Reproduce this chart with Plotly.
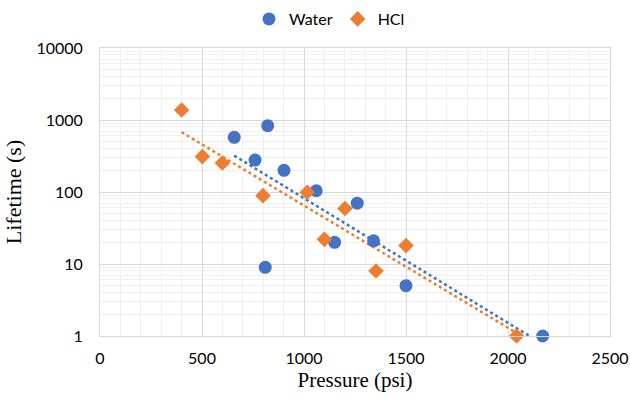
import numpy as np
import plotly.graph_objects as go

# Lifetime vs. pressure for two fluids
water_pressure = [658, 822, 760, 902, 1060, 1261, 1150, 1341, 1500, 2170, 810]
water_lifetime = [575, 833, 278, 200, 104, 70, 20, 21, 5, 1, 9]

hcl_pressure = [400, 502, 600, 799, 1016, 1201, 1100, 1500, 1353, 2042]
hcl_lifetime = [1380, 310, 253, 89, 99, 59, 22, 18, 8, 1]

x_ticks = [0, 500, 1000, 1500, 2000, 2500]
y_ticks = [1, 10, 100, 1000, 10000]

BLUE = "#4472C4"
ORANGE = "#ED7D31"
SANS = "Lato, Open Sans, sans-serif"
TICK_FONT = dict(family=SANS, size=16, color="#000000")
TITLE_FONT = dict(family="Liberation Serif, Times New Roman, serif", size=21, color="#000000")


def exp_trend(x, y):
    """Exponential least-squares fit (linear fit of ln y), evaluated across the data range."""
    x = np.asarray(x, float)
    b, a = np.polyfit(x, np.log(np.asarray(y, float)), 1)
    xs = np.linspace(x.min(), x.max(), 60)
    return xs, np.exp(a + b * xs)


fig = go.Figure()

wx, wy = exp_trend(water_pressure, water_lifetime)
hx, hy = exp_trend(hcl_pressure, hcl_lifetime)

fig.add_trace(go.Scatter(x=wx, y=wy, mode="lines", showlegend=False, hoverinfo="skip",
                         line=dict(color=BLUE, width=2.5, dash="dot")))
fig.add_trace(go.Scatter(x=hx, y=hy, mode="lines", showlegend=False, hoverinfo="skip",
                         line=dict(color=ORANGE, width=2.5, dash="dot")))

# markers sitting on the bottom axis are drawn whole, not clipped
fig.add_trace(go.Scatter(x=water_pressure, y=water_lifetime, mode="markers", name="Water",
                         cliponaxis=False,
                         marker=dict(symbol="circle", size=13, color=BLUE)))
fig.add_trace(go.Scatter(x=hcl_pressure, y=hcl_lifetime, mode="markers", name="HCl",
                         cliponaxis=False,
                         marker=dict(symbol="diamond", size=12, color=ORANGE)))

fig.update_layout(
    width=630, height=399,
    margin=dict(l=100, r=20, t=48, b=63, autoexpand=False),
    paper_bgcolor="white", plot_bgcolor="white",
    legend=dict(orientation="h", x=0.45, xanchor="center", y=0.995, yanchor="top",
                yref="container", font=dict(family=SANS, size=16, color="#000000"),
                itemwidth=30, tracegroupgap=0),
    xaxis=dict(
        range=[0, 2500], tickvals=x_ticks, ticks="", tickfont=TICK_FONT,
        ticklabelstandoff=8,
        showgrid=True, gridcolor="#D9D9D9", gridwidth=1,
        minor=dict(dtick=100, showgrid=True, gridcolor="#F0F0F0", gridwidth=1),
        showline=True, linecolor="#D9D9D9", mirror=True, zeroline=False,
        title=dict(text="Pressure (psi)", font=TITLE_FONT, standoff=6),
    ),
    yaxis=dict(
        type="log", range=[0, 4], tickvals=y_ticks, ticktext=[str(v) for v in y_ticks],
        ticks="", tickfont=TICK_FONT, ticklabelstandoff=13,
        showgrid=True, gridcolor="#D9D9D9", gridwidth=1,
        minor=dict(dtick="D1", showgrid=True, gridcolor="#F0F0F0", gridwidth=1),
        showline=True, linecolor="#D9D9D9", mirror=True, zeroline=False,
        title=dict(text="Lifetime (s)", font=dict(TITLE_FONT, size=22), standoff=8),
    ),
)

fig.write_html("out.html")
